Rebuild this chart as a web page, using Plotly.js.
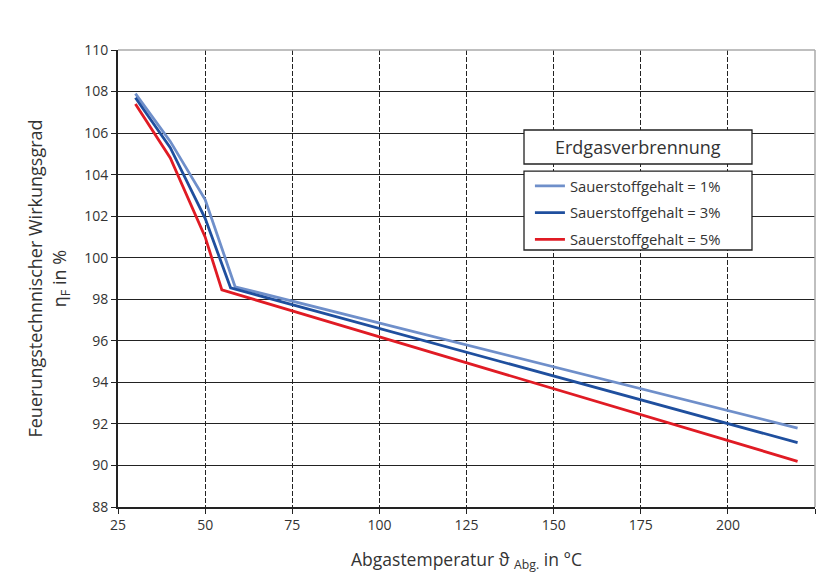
<!DOCTYPE html>
<html>
<head>
<meta charset="utf-8">
<script src="https://cdn.plot.ly/plotly-3.0.1.min.js"></script>
<style>html,body{margin:0;padding:0;background:#fff;}#chart{width:827px;height:580px;}</style>
</head>
<body>
<div id="chart"></div>
<script>
// Abgastemperatur in °C and efficiency values (%)
const x1 = [30, 40, 50, 58.6, 220];
const y1 = [107.9, 105.6, 102.8, 98.6, 91.8];
const x3 = [30, 40, 50, 57.3, 220];
const y3 = [107.7, 105.3, 101.9, 98.55, 91.1];
const x5 = [30, 40, 50, 54.8, 220];
const y5 = [107.4, 104.8, 101.0, 98.45, 90.2];
const seriesNames = ['Sauerstoffgehalt = 1%', 'Sauerstoffgehalt = 3%', 'Sauerstoffgehalt = 5%'];
const xTicks = [25, 50, 75, 100, 125, 150, 175, 200, 225];
const yTicks = [88, 90, 92, 94, 96, 98, 100, 102, 104, 106, 108, 110];

const colors = ['#6f8fca', '#1f4f9e', '#e01b24'];
const font = 'Open Sans, Noto Sans, sans-serif';

const traces = [
  {x: x1, y: y1, name: seriesNames[0], legendgroup: 'a', mode: 'lines', line: {color: colors[0], width: 2.8}},
  {x: x3, y: y3, name: seriesNames[1], legendgroup: 'b', mode: 'lines', line: {color: colors[1], width: 2.8}},
  {x: x5, y: y5, name: seriesNames[2], legendgroup: 'c', mode: 'lines', line: {color: colors[2], width: 2.8}}
];

const layout = {
  width: 827, height: 580,
  margin: {l: 118, r: 12, t: 50, b: 73},
  paper_bgcolor: '#fff', plot_bgcolor: '#fff',
  font: {family: font, color: '#333', size: 14},
  showlegend: true,
  legend: {
    x: 0.591, y: 0.738, xanchor: 'left', yanchor: 'top',
    borderwidth: 0, bgcolor: 'rgba(0,0,0,0)',
    font: {size: 14.8, color: '#333'},
    tracegroupgap: 4.5, itemwidth: 30
  },
  xaxis: {
    range: [25, 225], tickvals: xTicks, ticktext: xTicks.map(String),
    showline: true, linecolor: '#222', linewidth: 1.5,
    ticks: 'outside', ticklen: 5, tickcolor: '#222',
    showgrid: true, gridcolor: '#222', gridwidth: 1, griddash: '5px,2px',
    zeroline: false, tickfont: {size: 14},
    title: {text: 'Abgastemperatur ϑ <sub>Abg.</sub> in °C', font: {size: 17.5, color: '#333'}, standoff: 20}
  },
  yaxis: {
    range: [88, 110], tickvals: yTicks, ticktext: yTicks.map(String),
    showline: true, linecolor: '#222', linewidth: 2,
    ticks: 'outside', ticklen: 5, tickcolor: '#222',
    showgrid: true, gridcolor: '#222', gridwidth: 1,
    zeroline: false, tickfont: {size: 14},
    title: {text: 'Feuerungstechnnischer Wirkungsgrad<br>η<sub>F</sub> in %', font: {size: 18, color: '#333'}, standoff: 13}
  },
  shapes: [
    {type: 'line', xref: 'paper', yref: 'paper', x0: 0, x1: 1, y0: 1, y1: 1, line: {color: '#aaa', width: 1.5}},
    {type: 'line', xref: 'paper', yref: 'paper', x0: 1, x1: 1, y0: 0, y1: 1, line: {color: '#aaa', width: 1.5}},
    // legend title box
    {type: 'rect', xref: 'paper', yref: 'paper', x0: 0.5825, x1: 0.9096, y0: 0.7505, y1: 0.825,
     line: {color: '#222', width: 1.3}, fillcolor: '#fff', layer: 'above'},
    // legend box
    {type: 'rect', xref: 'paper', yref: 'paper', x0: 0.5825, x1: 0.9096, y0: 0.5624, y1: 0.735,
     line: {color: '#222', width: 1.3}, fillcolor: '#fff', layer: 'above'}
  ],
  annotations: [
    {xref: 'paper', yref: 'paper', x: 0.746, y: 0.788, xanchor: 'center', yanchor: 'middle',
     text: 'Erdgasverbrennung', showarrow: false, font: {size: 18, color: '#333'}}
  ]
};

Plotly.newPlot('chart', traces, layout, {displayModeBar: false, staticPlot: true});
</script>
</body>
</html>
